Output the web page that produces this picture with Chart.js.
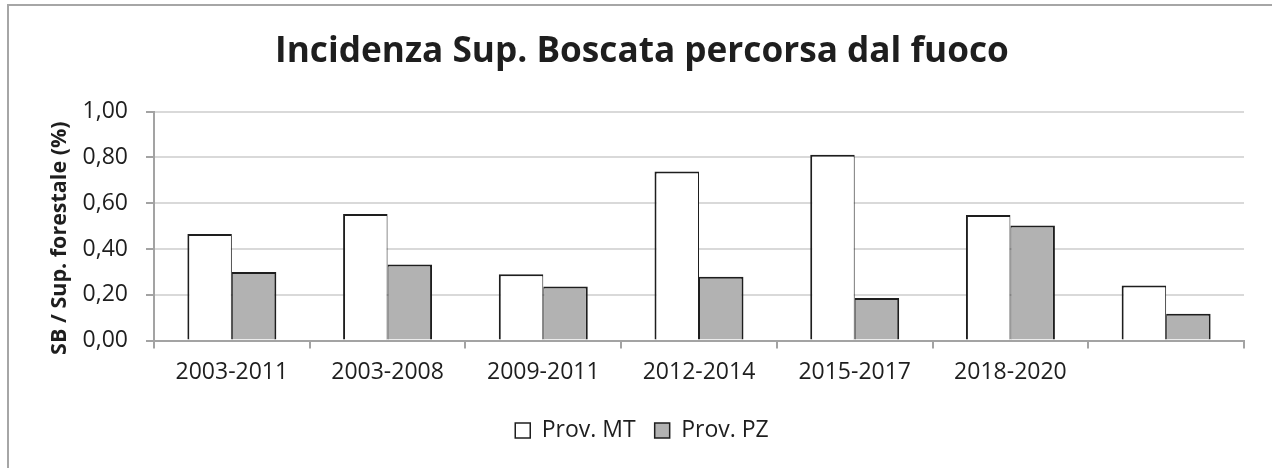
<!DOCTYPE html>
<html>
<head>
<meta charset="utf-8">
<script src="https://cdn.jsdelivr.net/npm/chart.js@4.4.0/dist/chart.umd.min.js"></script>
<style>
  html, body { margin: 0; padding: 0; background: #fff; overflow: hidden; }
  #wrap { position: relative; width: 1272px; height: 468px; }
  #frame { position: absolute; left: 7px; top: 4px; width: 1400px; height: 600px; border: 2px solid #a6a6a6; pointer-events: none; }
</style>
</head>
<body>
<div id="wrap">
  <canvas id="chart" width="1272" height="468"></canvas>
  <div id="frame"></div>
</div>
<script>
// Dati
const categories = ['2003-2011', '2003-2008', '2009-2011', '2012-2014', '2015-2017', '2018-2020', ''];
const provMT = [0.466, 0.553, 0.29, 0.739, 0.812, 0.549, 0.24];
const provPZ = [0.299, 0.332, 0.236, 0.279, 0.186, 0.503, 0.117];
const yTicks = [0, 0.2, 0.4, 0.6, 0.8, 1.0];
const seriesNames = ['Prov. MT', 'Prov. PZ'];
const chartTitle = 'Incidenza Sup. Boscata percorsa dal fuoco';
const yTitle = 'SB / Sup. forestale (%)';

const textColor = '#1e1e1e';
const axisColor = '#a3a3a3';
const gridColor = '#d9d9d9';
const fontFamily = '"Open Sans", "Noto Sans", sans-serif';

// formato italiano con la virgola
function formatTick(value) {
    return Number(value).toFixed(2).replace('.', ',');
}

// titolo dell'asse Y disegnato a mano, un po' sotto il centro come in Excel
const yTitlePlugin = {
    id: 'yTitle',
    afterDraw(chart) {
        const ctx = chart.ctx;
        const area = chart.chartArea;
        ctx.save();
        ctx.translate(60, (area.top + area.bottom) / 2 + 12);
        ctx.rotate(-Math.PI / 2);
        ctx.font = 'bold 21.5px ' + fontFamily;
        ctx.fillStyle = textColor;
        ctx.textAlign = 'center';
        ctx.textBaseline = 'middle';
        ctx.fillText(yTitle, 0, 0);
        ctx.restore();
    }
};

const ctx = document.getElementById('chart').getContext('2d');

new Chart(ctx, {
    type: 'bar',
    data: {
        labels: categories,
        datasets: [
            {
                label: seriesNames[0],
                data: provMT,
                backgroundColor: '#ffffff',
                borderColor: '#1e1e1e',
                borderWidth: { top: 2, left: 2, right: 1, bottom: 0 },
                borderSkipped: false
            },
            {
                label: seriesNames[1],
                data: provPZ,
                backgroundColor: '#b2b2b2',
                borderColor: '#1e1e1e',
                borderWidth: { top: 2, left: 1, right: 2, bottom: 0 },
                borderSkipped: false
            }
        ]
    },
    options: {
        responsive: false,
        animation: false,
        devicePixelRatio: 1,
        categoryPercentage: 2 / 3.5,
        barPercentage: 1,
        layout: {
            padding: { left: 40, right: 28, top: 0, bottom: 16 }
        },
        plugins: {
            title: {
                display: true,
                text: chartTitle,
                color: textColor,
                font: { family: fontFamily, size: 35.2, weight: 'bold' },
                padding: { top: 30.5, bottom: 39 }
            },
            legend: {
                position: 'bottom',
                labels: {
                    color: textColor,
                    font: { family: fontFamily, size: 23 },
                    boxWidth: 15,
                    boxHeight: 15,
                    padding: 19,
                    generateLabels(chart) {
                        const items = Chart.defaults.plugins.legend.labels.generateLabels(chart);
                        items.forEach(item => { item.lineWidth = 1.5; });
                        return items;
                    }
                }
            },
            tooltip: { enabled: false }
        },
        scales: {
            x: {
                grid: {
                    display: true,
                    drawOnChartArea: false,
                    offset: true,
                    tickLength: 8,
                    color: axisColor,
                    lineWidth: 2
                },
                border: { color: axisColor, width: 2 },
                ticks: {
                    color: textColor,
                    font: { family: fontFamily, size: 23 },
                    padding: 10,
                    maxRotation: 0,
                    autoSkip: false
                },
                afterFit(scale) {
                    scale.height = 59.5;
                }
            },
            y: {
                min: 0,
                max: 1,
                afterBuildTicks(scale) {
                    scale.ticks = yTicks.map(v => ({ value: v }));
                },
                ticks: {
                    color: textColor,
                    font: { family: fontFamily, size: 23 },
                    padding: 18,
                    callback: formatTick
                },
                grid: {
                    color: gridColor,
                    lineWidth: 2,
                    tickLength: 8,
                    tickColor: axisColor
                },
                border: { color: axisColor, width: 2 },
                afterFit(scale) {
                    scale.width = 114;
                }
            }
        }
    },
    plugins: [yTitlePlugin]
});
</script>
</body>
</html>
